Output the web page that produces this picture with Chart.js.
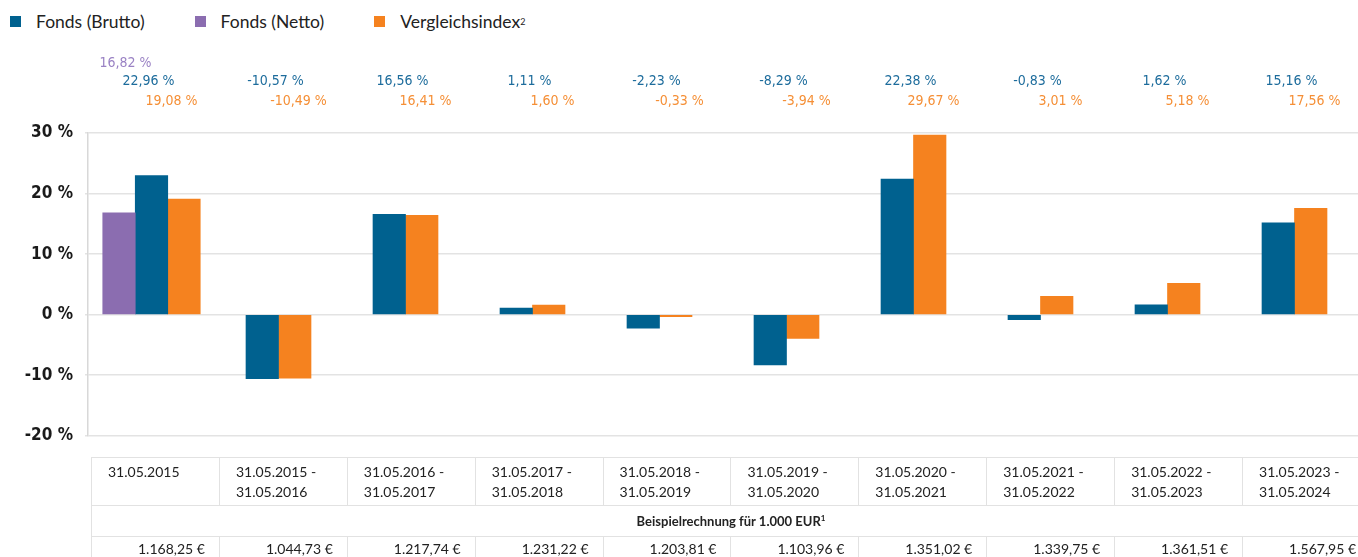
<!DOCTYPE html>
<html lang="de">
<head>
<meta charset="utf-8">
<script src="https://cdn.jsdelivr.net/npm/chart.js@4.4.1/dist/chart.umd.min.js"></script>
<style>
  body { margin: 0; background: #fff; width: 1358px; height: 557px; overflow: hidden; position: relative; font-family: Lato, 'Open Sans', sans-serif; }
  .legend { position: absolute; top: 11px; left: 10px; display: flex; font-size: 17.5px; color: #222; }
  .legend .item { display: flex; align-items: center; }
  .legend .box { width: 11px; height: 11px; margin-right: 15px; }
  .legend sup { font-size: 9px; }
  #chartBox { position: absolute; left: 0; top: 0; width: 1358px; height: 458px; }
  table { position: absolute; left: 91px; top: 457px; border-collapse: collapse; table-layout: fixed; width: 1280px; font-size: 14px; color: #222; }
  td { border: 1.5px solid #e2e2e2; padding: 0; }
  td.period { height: 43px; padding: 4px 0 0 16px; vertical-align: top; line-height: 20px; }
  td.title { height: 30px; text-align: center; font-weight: bold; font-size: 13px; }
  td.title sup { font-size: 8px; }
  td.amount { height: 27px; text-align: right; padding: 3px 14px 0 0; vertical-align: top; }
</style>
</head>
<body>
<div class="legend">
  <div class="item" style="margin-right:50px"><span class="box" style="background:#00618f"></span>Fonds (Brutto)</div>
  <div class="item" style="margin-right:50px"><span class="box" style="background:#8b6db0"></span>Fonds (Netto)</div>
  <div class="item"><span class="box" style="background:#f5821f"></span>Vergleichsindex<sup>2</sup></div>
</div>
<div id="chartBox"><canvas id="chart"></canvas></div>
<table id="tbl"></table>
<script>
const periods = [
    ['31.05.2015', ''],
    ['31.05.2015 -', '31.05.2016'],
    ['31.05.2016 -', '31.05.2017'],
    ['31.05.2017 -', '31.05.2018'],
    ['31.05.2018 -', '31.05.2019'],
    ['31.05.2019 -', '31.05.2020'],
    ['31.05.2020 -', '31.05.2021'],
    ['31.05.2021 -', '31.05.2022'],
    ['31.05.2022 -', '31.05.2023'],
    ['31.05.2023 -', '31.05.2024']
];
const netto = [16.82, null, null, null, null, null, null, null, null, null];
const brutto = [22.96, -10.57, 16.56, 1.11, -2.23, -8.29, 22.38, -0.83, 1.62, 15.16];
const vergleich = [19.08, -10.49, 16.41, 1.60, -0.33, -3.94, 29.67, 3.01, 5.18, 17.56];
const amounts = ['1.168,25 €', '1.044,73 €', '1.217,74 €', '1.231,22 €', '1.203,81 €', '1.103,96 €', '1.351,02 €', '1.339,75 €', '1.361,51 €', '1.567,95 €'];
const yTicks = [30, 20, 10, 0, -10, -20];

const BLUE = '#00618f';
const PURPLE = '#8b6db0';
const ORANGE = '#f5821f';

function fmt(v) {
    return v.toFixed(2).replace('.', ',') + ' %';
}

// table below the chart
function buildTable() {
    const tbl = document.getElementById('tbl');
    let html = '<tr>';
    periods.forEach(p => {
        html += `<td class="period">${p[0]}<br>${p[1]}</td>`;
    });
    html += '</tr>';
    html += `<tr><td class="title" colspan="${periods.length}">Beispielrechnung für 1.000 EUR<sup>1</sup></td></tr>`;
    html += '<tr>';
    amounts.forEach(a => {
        html += `<td class="amount">${a}</td>`;
    });
    html += '</tr>';
    tbl.innerHTML = html;
}

const valueLabels = {
    id: 'valueLabels',
    afterDraw(chart) {
        const ctx = chart.ctx;
        const x = chart.scales.x;
        ctx.save();
        ctx.font = '14px "Liberation Sans Narrow", "DejaVu Sans Condensed", sans-serif';
        ctx.textAlign = 'center';
        ctx.textBaseline = 'middle';
        for (let i = 0; i < brutto.length; i++) {
            const cx = x.getPixelForValue(i);
            if (netto[i] !== null) {
                ctx.fillStyle = '#9a82c4';
                ctx.fillText(fmt(netto[i]), cx - 26, 63);
            }
            ctx.fillStyle = '#1d6c9c';
            ctx.fillText(fmt(brutto[i]), cx - 3, 81);
            ctx.fillStyle = '#f58f36';
            ctx.fillText(fmt(vergleich[i]), cx + 20, 101);
        }
        ctx.restore();
    }
};

function drawChart() {
    const ctx = document.getElementById('chart').getContext('2d');
    new Chart(ctx, {
        type: 'bar',
        data: {
            labels: periods.map(p => p.join(' ')),
            datasets: [
                { label: 'Fonds (Netto)', data: netto, backgroundColor: PURPLE },
                { label: 'Fonds (Brutto)', data: brutto, backgroundColor: BLUE },
                { label: 'Vergleichsindex', data: vergleich, backgroundColor: ORANGE }
            ]
        },
        options: {
            responsive: true,
            maintainAspectRatio: false,
            animation: false,
            skipNull: true,
            barThickness: 32.5,
            layout: { padding: { top: 133, bottom: 12, left: 0, right: 0 } },
            plugins: {
                legend: { display: false },
                tooltip: { enabled: false }
            },
            scales: {
                x: { display: false },
                y: {
                    min: -20,
                    max: 30,
                    afterFit(scale) { scale.width = 88; },
                    afterBuildTicks(scale) {
                        scale.ticks = yTicks.map(v => ({ value: v }));
                    },
                    ticks: {
                        padding: 12,
                        color: '#1a1a1a',
                        font: { family: '"Liberation Sans Narrow", "DejaVu Sans Condensed", sans-serif', size: 17, weight: 'bold' },
                        callback: v => v + ' %'
                    },
                    grid: { color: '#e3e3e3', lineWidth: 1.5, tickLength: 3 },
                    border: { color: '#d8d8d8', width: 1.5 }
                }
            }
        },
        plugins: [valueLabels]
    });
}

buildTable();
drawChart();
</script>
</body>
</html>
